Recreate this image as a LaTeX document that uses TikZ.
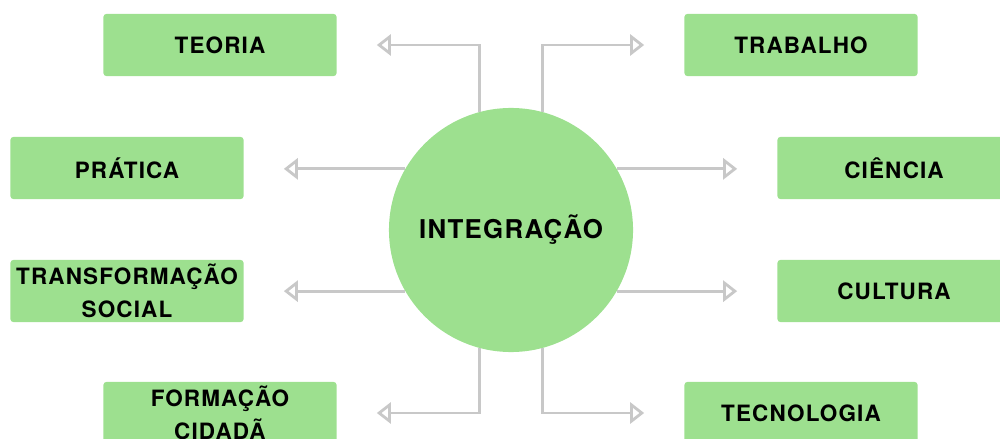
\documentclass[tikz,border=0pt]{standalone}
\usepackage{fontspec}
\setmainfont{TeX Gyre Heros}[LetterSpace=5]
\usetikzlibrary{arrows.meta}
\definecolor{verde}{HTML}{9DE08F}
\definecolor{cinza}{HTML}{C8C8C8}

\begin{document}
\begin{tikzpicture}[x=0.025cm, y=-0.025cm,
    caixa/.style={fill=verde, rounded corners=2pt, minimum width=5.825cm, minimum height=1.55cm,
        inner sep=0pt, align=center, font=\fontsize{16}{23.5}\selectfont\bfseries},
    seta/.style={draw=cinza, line width=2pt, -{Triangle[open, length=10pt, width=15pt]}, shorten >=1cm}]
\useasboundingbox (0,0) rectangle (1000,439);
\node[circle, fill=verde, minimum size=6.1cm, inner sep=0pt,
    font=\fontsize{18.4}{22}\selectfont\bfseries] (integ) at (511,230) {INTEGRAÇÃO};

\node[caixa] (teoria) at (220,45) {TEORIA};
\node[caixa] (pratica) at (127,168) {PRÁTICA};
\node[caixa] (transf) at (127,291) {TRANSFORMAÇÃO\\SOCIAL};
\node[caixa] (formacao) at (220,413) {FORMAÇÃO\\CIDADÃ};
\node[caixa] (trabalho) at (801,45) {TRABALHO};
\node[caixa] (ciencia) at (894,168) {CIÊNCIA};
\node[caixa] (cultura) at (894,291) {CULTURA};
\node[caixa] (tecno) at (801,413) {TECNOLOGIA};

\draw[seta] (integ.105) |- (teoria.east);
\draw[seta] (integ.75) |- (trabalho.west);
\draw[seta] (integ.150) -- (pratica.east |- integ.150);
\draw[seta] (integ.30) -- (ciencia.west |- integ.30);
\draw[seta] (integ.210) -- (transf.east |- integ.210);
\draw[seta] (integ.-30) -- (cultura.west |- integ.-30);
\draw[seta] (integ.255) |- (formacao.east);
\draw[seta] (integ.285) |- (tecno.west);
\end{tikzpicture}
\end{document}
